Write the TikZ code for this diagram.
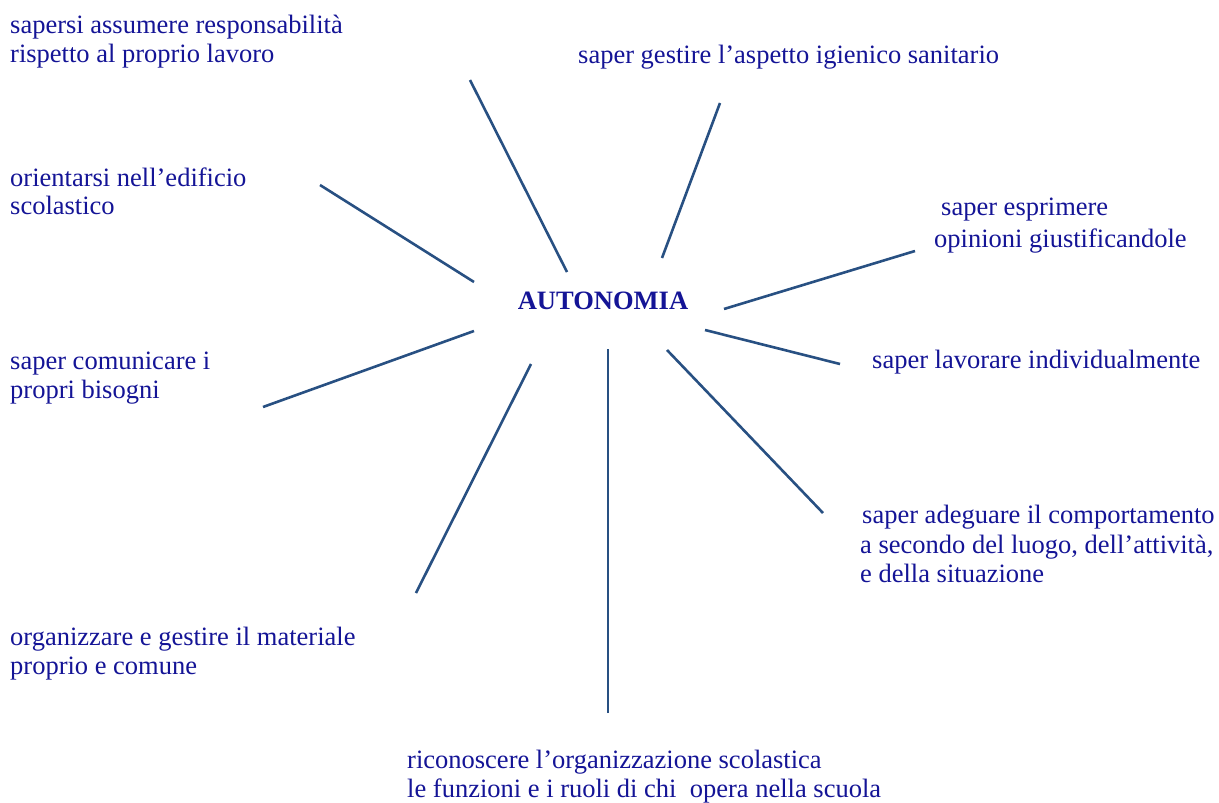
\documentclass[tikz,border=0pt]{standalone}
\usepackage{fontspec}
\setmainfont{Liberation Serif}
\definecolor{txtblue}{RGB}{20,20,150}
\definecolor{lineblue}{RGB}{40,80,130}
\tikzset{
  lbl/.style={anchor=base west, inner sep=0pt, text=txtblue,
    font=\fontsize{26.5}{29.5}\selectfont},
  spoke/.style={draw=lineblue, line width=2.6pt}
}
\newcommand{\lines}[1]{\begin{tabular}[t]{@{}l@{}}#1\end{tabular}}
\begin{document}
\begin{tikzpicture}[x=1pt,y=-1pt]
\useasboundingbox (0,0) rectangle (1219,803);
% labels
\node[lbl] (t1) at (10,33) {\lines{sapersi assumere responsabilità\\[-0.5pt] rispetto al proprio lavoro}};
\node[lbl] (t2) at (578,63) {saper gestire l’aspetto igienico sanitario};
\node[lbl] (t3) at (10,186) {\lines{orientarsi nell’edificio\\[-1pt] scolastico}};
\node[lbl] (t4) at (941,215) {saper esprimere};
\node[lbl] (t4b) at (934,247) {opinioni giustificandole};
\node[lbl, font=\fontsize{26.5}{29.5}\selectfont\bfseries, anchor=base] (c) at (603,309) {AUTONOMIA};
\node[lbl] (t5) at (10,369) {\lines{saper comunicare i\\ propri bisogni}};
\node[lbl] (t6) at (872,368) {saper lavorare individualmente};
\node[lbl] (t7) at (862,523) {saper adeguare il comportamento};
\node[lbl] (t7b) at (860,553) {\lines{a secondo del luogo, dell’attività,\\ e della situazione}};
\node[lbl] (t8) at (10,645) {\lines{organizzare e gestire il materiale\\ proprio e comune}};
\node[lbl] (t9) at (407,768) {\lines{riconoscere l’organizzazione scolastica\\[-0.5pt] le funzioni e i ruoli di chi\ \ opera nella scuola}};
% spoke end points
\coordinate (a1) at (470,80);  \coordinate (b1) at (567,272);
\coordinate (a2) at (720,103); \coordinate (b2) at (662,258);
\coordinate (a3) at (320,185); \coordinate (b3) at (474,282);
\coordinate (a4) at (915,251); \coordinate (b4) at (724,309);
\coordinate (a5) at (840,364); \coordinate (b5) at (705,330);
\coordinate (a6) at (263,407); \coordinate (b6) at (474,331);
\coordinate (a7) at (416,593); \coordinate (b7) at (531,364);
\coordinate (a8) at (608,713); \coordinate (b8) at (608,349);
\coordinate (a9) at (823,513); \coordinate (b9) at (667,350);
\foreach \i in {1,...,9} { \draw[spoke] (a\i) -- (b\i); }
\end{tikzpicture}
\end{document}
